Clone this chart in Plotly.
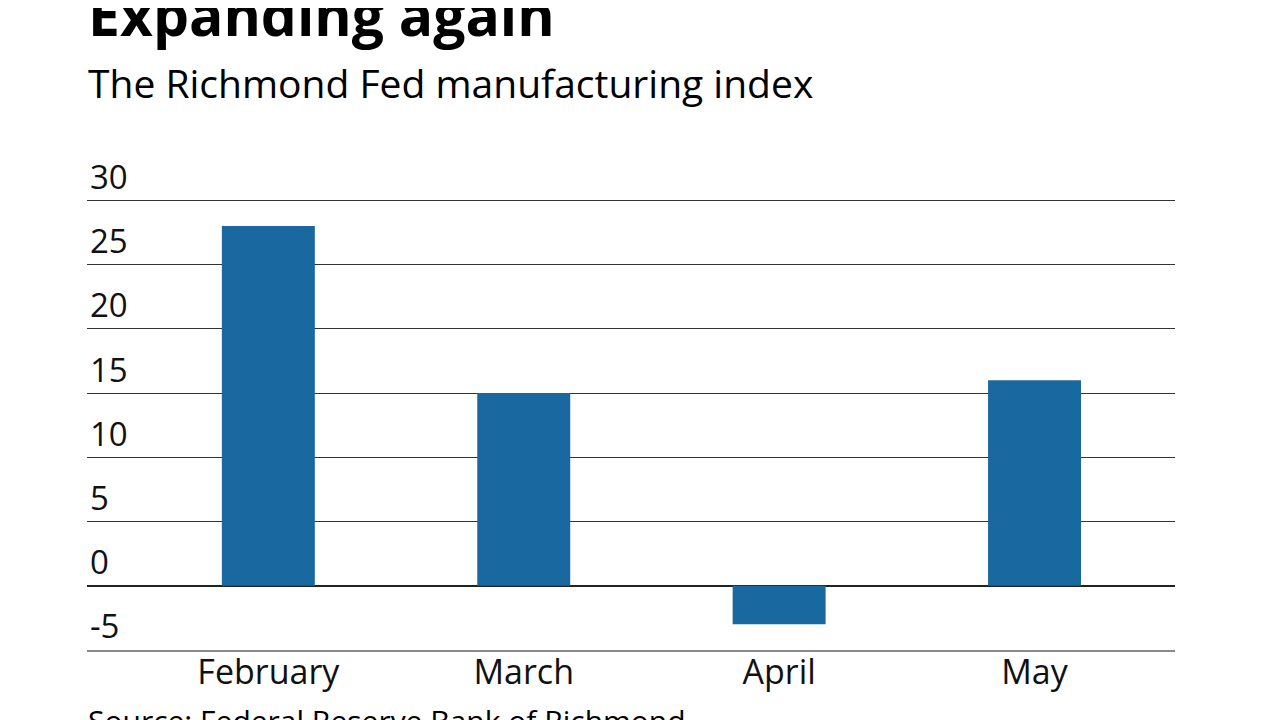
import plotly.graph_objects as go

months = ["February", "March", "April", "May"]
index_values = [28, 15, -3, 16]
y_ticks = [-5, 0, 5, 10, 15, 20, 25, 30]

title_text = "Expanding again"
subtitle_text = "The Richmond Fed manufacturing index"
source_text = "Source: Federal Reserve Bank of Richmond"

FONT = "Open Sans"

# plot area: bottom at 650 px, 12.857 px per unit, top of range 34
Y_MIN, Y_MAX = -5, 34
PLOT_H = 450 / 35 * (Y_MAX - Y_MIN)

def py(pixel):
    return (650 - pixel) / PLOT_H

fig = go.Figure()
fig.add_trace(go.Bar(
    x=months, y=index_values, width=0.364,
    marker=dict(color="#1a68a0", line=dict(width=0)),
))

fig.update_layout(
    width=1280, height=720,
    margin=dict(l=79, r=113, t=round(650 - PLOT_H - 8), b=78, autoexpand=False),
    paper_bgcolor="white", plot_bgcolor="white",
    showlegend=False,
    font=dict(family=FONT, color="#111111"),
    xaxis=dict(
        type="category", range=[-0.71, 3.55],
        showgrid=False, zeroline=False,
        showline=True, linecolor="#8a8a8a", linewidth=2,
        ticks="", ticklabelstandoff=-9,
        tickfont=dict(size=34, family=FONT, color="#111111"),
    ),
    yaxis=dict(
        range=[Y_MIN, Y_MAX], tickvals=y_ticks,
        ticktext=[str(v) for v in y_ticks],
        ticklabelposition="inside top",
        showgrid=True, gridcolor="#333333", gridwidth=1,
        zeroline=True, zerolinecolor="#222222", zerolinewidth=1.5,
        showline=False, ticks="",
        tickfont=dict(size=33, family=FONT, color="#111111"),
    ),
    annotations=[
        dict(text="<b>" + title_text + "</b>", xref="paper", yref="paper",
             x=-0.0005, y=py(13), xanchor="left", yanchor="middle",
             showarrow=False, font=dict(size=57, family=FONT, color="#000000")),
        dict(text=subtitle_text, xref="paper", yref="paper",
             x=-0.0005, y=py(82), xanchor="left", yanchor="middle",
             showarrow=False, font=dict(size=39, family=FONT, color="#000000")),
        dict(text=source_text, xref="paper", yref="paper",
             x=-0.0005, y=py(698), xanchor="left", yanchor="top",
             showarrow=False, font=dict(size=30, family=FONT, color="#000000")),
    ],
)

fig.write_html("out.html")
